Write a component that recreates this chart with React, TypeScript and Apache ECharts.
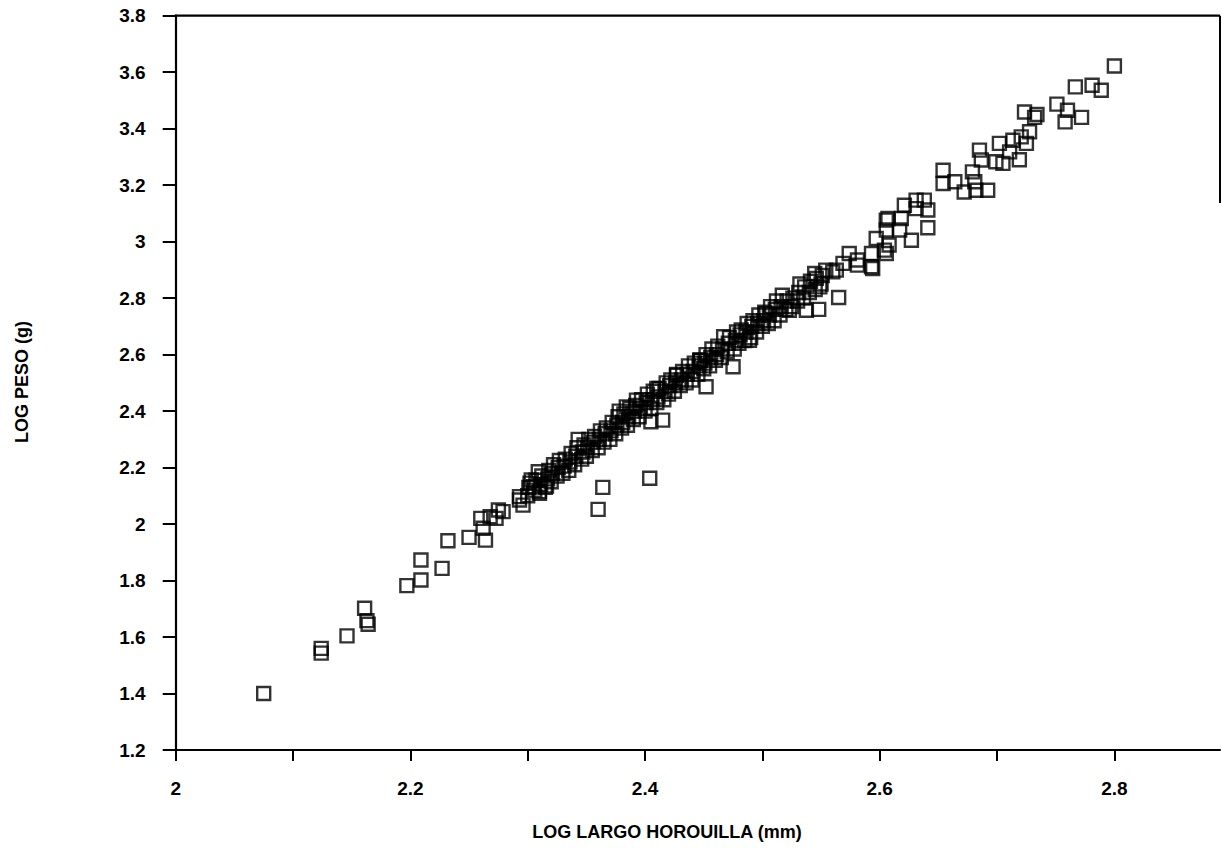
import React, { useEffect, useRef } from "react";
import * as echarts from "echarts";

// LOG LARGO HORQUILLA (mm) vs LOG PESO (g)
const lowerTail: number[][] = [
  [2.075, 1.40], [2.124, 1.56], [2.124, 1.543], [2.146, 1.604], [2.161, 1.702],
  [2.163, 1.658], [2.164, 1.645], [2.197, 1.782], [2.209, 1.802], [2.209, 1.873],
  [2.227, 1.843], [2.232, 1.941], [2.25, 1.953], [2.264, 1.943], [2.262, 1.985],
  [2.26, 2.02], [2.268, 2.026], [2.275, 2.05], [2.279, 2.044], [2.273, 2.02],
  [2.293, 2.085], [2.296, 2.067], [2.293, 2.097], [2.305, 2.132], [2.303, 2.156],
  [2.309, 2.185], [2.31, 2.109], [2.315, 2.13],
];

const outliers: number[][] = [
  [2.404, 2.162], [2.364, 2.13], [2.36, 2.052], [2.565, 2.802],
];

const denseBand: number[][] = [
  [2.300, 2.10], [2.301, 2.13], [2.302, 2.145], [2.306, 2.12], [2.307, 2.155],
  [2.31, 2.115], [2.311, 2.14], [2.312, 2.17], [2.316, 2.135], [2.317, 2.16], [2.318, 2.19],
  [2.32, 2.15], [2.321, 2.18], [2.322, 2.21], [2.325, 2.17], [2.326, 2.20], [2.327, 2.225],
  [2.33, 2.18], [2.331, 2.205], [2.332, 2.23], [2.335, 2.19], [2.336, 2.22], [2.337, 2.25],
  [2.34, 2.21], [2.341, 2.24], [2.342, 2.27], [2.343, 2.30], [2.346, 2.23], [2.347, 2.255],
  [2.348, 2.28], [2.35, 2.24], [2.351, 2.27], [2.352, 2.30], [2.355, 2.26], [2.356, 2.29],
  [2.357, 2.31], [2.36, 2.27], [2.361, 2.30], [2.362, 2.33], [2.365, 2.29], [2.366, 2.32],
  [2.367, 2.34], [2.37, 2.30], [2.371, 2.33], [2.372, 2.36], [2.375, 2.32], [2.376, 2.35],
  [2.377, 2.38], [2.378, 2.40], [2.38, 2.34], [2.381, 2.36], [2.382, 2.39], [2.385, 2.35],
  [2.386, 2.38], [2.387, 2.41], [2.39, 2.37], [2.391, 2.40], [2.392, 2.42], [2.395, 2.38],
  [2.396, 2.41], [2.397, 2.44], [2.40, 2.40], [2.401, 2.43], [2.402, 2.46], [2.405, 2.41],
  [2.406, 2.44], [2.407, 2.47], [2.41, 2.43], [2.411, 2.45], [2.412, 2.48], [2.415, 2.368],
  [2.405, 2.362], [2.416, 2.44], [2.417, 2.47], [2.418, 2.50],
];

const upperBand: number[][] = [
  [2.42, 2.46], [2.421, 2.49], [2.422, 2.51], [2.425, 2.47], [2.426, 2.50], [2.427, 2.53],
  [2.43, 2.49], [2.431, 2.51], [2.432, 2.54], [2.435, 2.50], [2.436, 2.53], [2.437, 2.56],
  [2.44, 2.51], [2.441, 2.54], [2.442, 2.57], [2.445, 2.53], [2.446, 2.56], [2.447, 2.58],
  [2.45, 2.55], [2.451, 2.57], [2.452, 2.60], [2.455, 2.56], [2.456, 2.59], [2.457, 2.62],
  [2.46, 2.58], [2.461, 2.60], [2.462, 2.63], [2.465, 2.59], [2.466, 2.62], [2.467, 2.663],
  [2.47, 2.61], [2.471, 2.64], [2.472, 2.66], [2.475, 2.557], [2.476, 2.62], [2.477, 2.65],
  [2.478, 2.68], [2.48, 2.64], [2.481, 2.67], [2.482, 2.687], [2.485, 2.65], [2.486, 2.68],
  [2.487, 2.71], [2.489, 2.651], [2.49, 2.66], [2.491, 2.70], [2.492, 2.72], [2.495, 2.68],
  [2.496, 2.71], [2.497, 2.74], [2.50, 2.70], [2.501, 2.72], [2.502, 2.75], [2.503, 2.745],
  [2.505, 2.71], [2.506, 2.74], [2.507, 2.77], [2.51, 2.72], [2.511, 2.76], [2.512, 2.79],
  [2.515, 2.74], [2.516, 2.77], [2.517, 2.81], [2.52, 2.76], [2.521, 2.79], [2.523, 2.757],
  [2.525, 2.77], [2.526, 2.80], [2.53, 2.79], [2.531, 2.82], [2.532, 2.85], [2.535, 2.80],
  [2.536, 2.84], [2.5375, 2.757], [2.54, 2.82], [2.541, 2.86], [2.545, 2.83], [2.546, 2.87],
  [2.548, 2.76], [2.549, 2.84], [2.55, 2.85], [2.551, 2.88], [2.447, 2.58], [2.41, 2.48],
  [2.4267, 2.527], [2.452, 2.486], [2.4466, 2.58], [2.3927, 2.439], [2.384, 2.415],
];

const upperTail: number[][] = [
  [2.5446, 2.887], [2.554, 2.899], [2.563, 2.899], [2.5687, 2.923], [2.574, 2.958],
  [2.581, 2.935], [2.581, 2.917], [2.593, 2.958], [2.593, 2.911], [2.597, 3.011],
  [2.6056, 2.958], [2.608, 2.988], [2.594, 2.905], [2.604, 2.97], [2.56, 2.893],
  [2.627, 3.005], [2.617, 3.041], [2.6056, 3.041], [2.6184, 3.082], [2.607, 3.082],
  [2.6056, 3.076], [2.631, 3.117], [2.641, 3.049], [2.641, 3.112], [2.621, 3.129],
  [2.631, 3.147], [2.638, 3.147], [2.692, 3.182], [2.682, 3.182], [2.672, 3.176],
  [2.681, 3.212], [2.679, 3.247], [2.664, 3.212], [2.654, 3.206], [2.654, 3.253],
  [2.699, 3.283], [2.6866, 3.289], [2.685, 3.324], [2.705, 3.277], [2.719, 3.29],
  [2.7107, 3.318], [2.702, 3.348], [2.725, 3.348], [2.7135, 3.359], [2.7206, 3.371],
  [2.7277, 3.389], [2.734, 3.45], [2.732, 3.44], [2.7234, 3.459], [2.772, 3.44],
  [2.758, 3.424], [2.76, 3.465], [2.751, 3.487], [2.7888, 3.536], [2.781, 3.554],
  [2.7667, 3.548], [2.80, 3.622],
];

const xTickLabels = ["2", "2.2", "2.4", "2.6", "2.8"];
const xTitle = "LOG LARGO HOROUILLA (mm)";
const yTitle = "LOG PESO (g)";

const FONT = "'Liberation Sans', Arial, sans-serif";

export default function App() {
  const ref = useRef<HTMLDivElement>(null);
  useEffect(() => {
    if (!ref.current) return;
    const chart = echarts.init(ref.current, null, { renderer: "svg" });
    const allPoints = [...lowerTail, ...outliers, ...denseBand, ...upperBand, ...upperTail];
    const plotLeft = 175.7;
    const plotTop = 15.7;
    const plotRight = 1220;
    chart.setOption({
      animation: false,
      backgroundColor: "#fff",
      grid: { left: plotLeft, top: plotTop, right: 1222 - plotRight, bottom: 98, show: false },
      xAxis: {
        type: "value",
        min: 2,
        max: 2.89,
        interval: 0.1,
        axisLine: { show: true, onZero: false, lineStyle: { color: "#000", width: 2.2 } },
        axisTick: { show: true, length: 11, lineStyle: { color: "#000", width: 2 } },
        splitLine: { show: false },
        axisLabel: {
          color: "#000",
          fontFamily: FONT,
          fontWeight: "bold",
          fontSize: 19,
          margin: 29,
          showMaxLabel: false,
          formatter: (v: number) => {
            const r = Math.round(v * 10);
            if (r % 2 !== 0) return "";
            const label = (r / 10).toString();
            return xTickLabels.includes(label) ? label : "";
          },
        },
      },
      yAxis: {
        type: "value",
        min: 1.2,
        max: 3.8,
        interval: 0.2,
        axisLine: { show: true, onZero: false, lineStyle: { color: "#000", width: 2.2 } },
        axisTick: { show: true, length: 13, lineStyle: { color: "#000", width: 2 } },
        splitLine: { show: false },
        axisLabel: {
          color: "#000",
          fontFamily: FONT,
          fontWeight: "bold",
          fontSize: 19,
          margin: 30,
          formatter: (v: number) => String(Math.round(v * 10) / 10),
        },
      },
      series: [
        {
          type: "scatter",
          symbol: "rect",
          symbolSize: 13,
          data: allPoints,
          itemStyle: { color: "rgba(0,0,0,0)", borderColor: "#000", borderWidth: 2.4 },
          emphasis: { disabled: true },
        },
      ],
      graphic: [
        {
          type: "line",
          shape: { x1: plotLeft - 1, y1: plotTop, x2: plotRight, y2: plotTop },
          style: { stroke: "#000", lineWidth: 2.2 },
        },
        {
          type: "line",
          shape: { x1: plotRight, y1: plotTop, x2: plotRight, y2: 203 },
          style: { stroke: "#000", lineWidth: 2 },
        },
        {
          type: "text",
          x: 667,
          y: 832,
          style: {
            text: xTitle,
            fill: "#000",
            font: `bold 18px ${FONT}`,
            textAlign: "center",
            textVerticalAlign: "middle",
          },
        },
        {
          type: "text",
          x: 22,
          y: 382,
          rotation: Math.PI / 2,
          style: {
            text: yTitle,
            fill: "#000",
            font: `bold 18px ${FONT}`,
            textAlign: "center",
            textVerticalAlign: "middle",
          },
        },
      ],
    });
    return () => chart.dispose();
  }, []);
  return (
    <div
      ref={ref}
      style={{ position: "fixed", left: 0, top: 0, width: 1222, height: 848, background: "#fff" }}
    />
  );
}
